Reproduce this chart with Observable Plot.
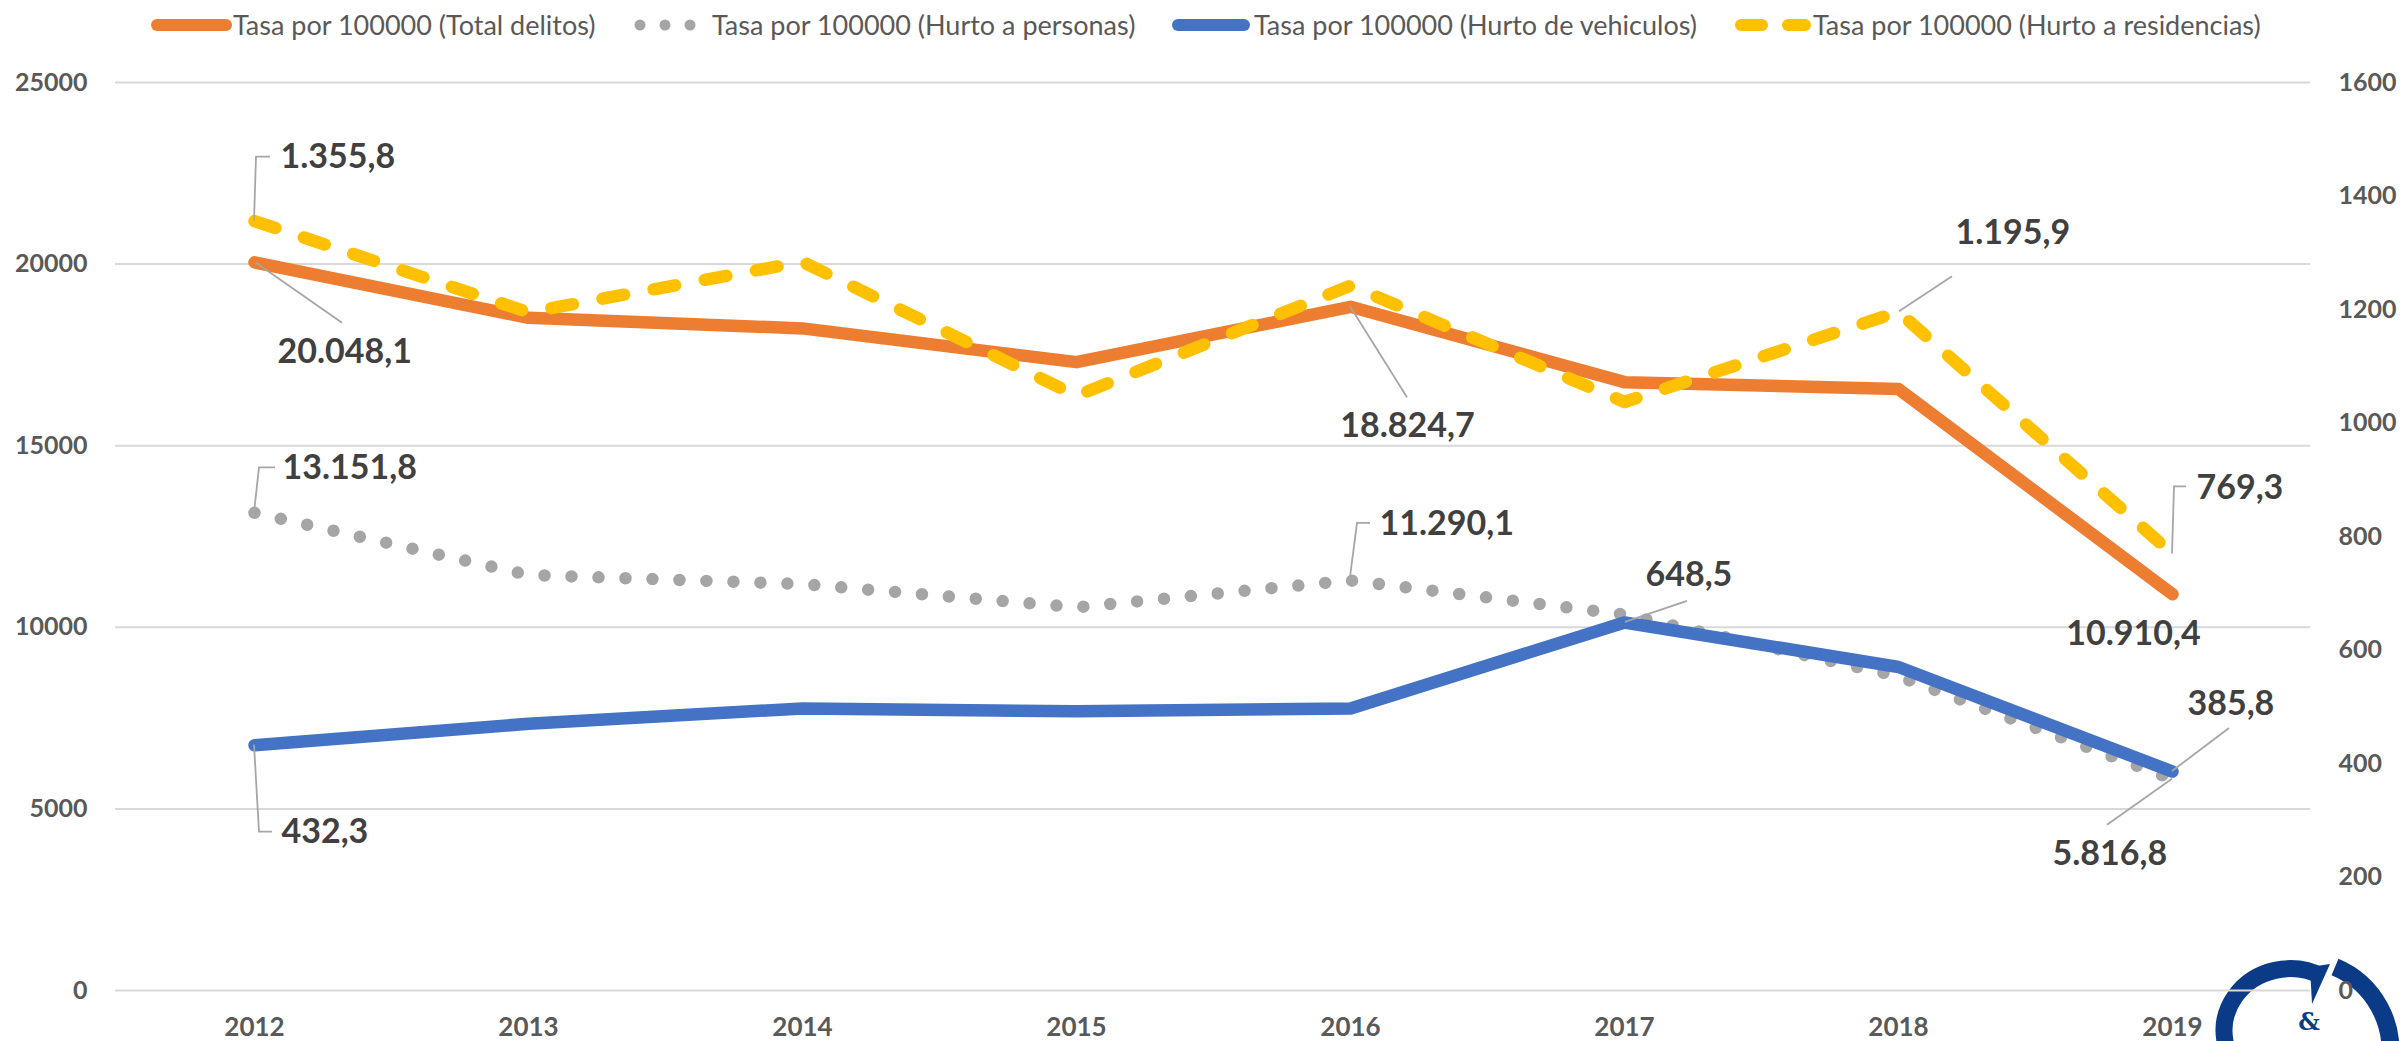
<!DOCTYPE html>
<html>
<head>
<meta charset="utf-8">
<script src="https://cdn.jsdelivr.net/npm/d3@7"></script>
<script src="https://cdn.jsdelivr.net/npm/@observablehq/plot@0.6"></script>
<style>
  html, body { margin: 0; padding: 0; background: #ffffff; }
  body { width: 2402px; height: 1041px; overflow: hidden; position: relative; font-family: Lato, "Open Sans", sans-serif; }
  #legend { position: absolute; left: 0; top: 0; width: 2402px; height: 50px; z-index: 2; }
  #legend .txt { position: absolute; top: 0; line-height: 50px; font-size: 27px; color: #595959; white-space: nowrap; }
  #legend svg.sw { position: absolute; left: 0; top: 0; }
  #logo { position: absolute; left: 0; top: 0; z-index: 0; }
  #chart { position: absolute; left: 0; top: 50px; z-index: 1; }
</style>
</head>
<body>
<div id="legend"></div>
<svg id="logo" width="2402" height="1041" viewBox="0 0 2402 1041">
  <path d="M2250,1080 A66 62 0 0 1 2323,977" fill="none" stroke="#0B3A86" stroke-width="17"/>
  <polygon points="2310,967 2330,964 2312,1004" fill="#0B3A86"/>
  <path d="M2335,967 A90 90 0 0 1 2389,1066" fill="none" stroke="#0B3A86" stroke-width="18"/>
  <text x="2309" y="1030" text-anchor="middle" font-family="DejaVu Serif, serif" font-weight="bold" font-size="24" fill="#0B3A86">&amp;</text>
</svg>
<div id="chart"></div>
<script>
// ---------------- data ----------------
const years = [2012, 2013, 2014, 2015, 2016, 2017, 2018, 2019];
const totalDelitos     = [20048.1, 18520, 18230, 17300, 18824.7, 16750, 16560, 10910.4];
const hurtoPersonas    = [13151.8, 11440, 11190, 10550, 11290.1, 10350, 8650, 5816.8];
const hurtoVehiculos   = [432.3, 470, 497, 492, 497, 648.5, 570, 385.8];
const hurtoResidencias = [1355.8, 1195, 1284, 1048, 1242, 1037, 1195.9, 769.3];
const seriesNames = [
  "Tasa por 100000 (Total delitos)",
  "Tasa por 100000 (Hurto a personas)",
  "Tasa por 100000 (Hurto de vehiculos)",
  "Tasa por 100000 (Hurto a residencias)"
];
const leftTicks  = [0, 5000, 10000, 15000, 20000, 25000];
const rightTicks = [0, 200, 400, 600, 800, 1000, 1200, 1400, 1600];

// ---------------- styling / layout ----------------
const colors = { total: "#ED7D31", personas: "#A5A5A5", veh: "#4472C4", res: "#FFC000" };
const leftMax = 25000, rightMax = 1600;
const k = leftMax / rightMax; // secondary axis -> primary axis units

const seriesDefs = [
  { key: "total",    name: seriesNames[0], values: totalDelitos,     axis: "left"  },
  { key: "personas", name: seriesNames[1], values: hurtoPersonas,    axis: "left"  },
  { key: "veh",      name: seriesNames[2], values: hurtoVehiculos,   axis: "right" },
  { key: "res",      name: seriesNames[3], values: hurtoResidencias, axis: "right" }
];
const rowsOf = s => years.map((yr, i) => ({
  year: yr, value: s.values[i], y: s.axis === "right" ? s.values[i] * k : s.values[i]
}));
const rows = Object.fromEntries(seriesDefs.map(s => [s.key, rowsOf(s)]));

const fmt = d3.formatLocale({ decimal: ",", thousands: ".", grouping: [3], currency: ["", ""] }).format(",.1f");

// label placement (pixel offsets from the data point)
const labelLayout = [
  { key: "res",      i: 0, dx: 26,   dy: -64, anchor: "start",  leader: [[0, 0], [2, -64], [16, -64]] },
  { key: "total",    i: 0, dx: 23,   dy: 90,  anchor: "start",  leader: [[2, 1], [88, 61]] },
  { key: "personas", i: 0, dx: 28,   dy: -45, anchor: "start",  leader: [[0, 0], [5, -45], [21, -45]] },
  { key: "veh",      i: 0, dx: 27,   dy: 87,  anchor: "start",  leader: [[0, 0], [5, 87], [18, 87]] },
  { key: "total",    i: 4, dx: 57,   dy: 119, anchor: "middle", leader: [[0, 0], [57, 91]] },
  { key: "personas", i: 4, dx: 29,   dy: -56, anchor: "start",  leader: [[0, -3], [7, -57], [20, -57]] },
  { key: "veh",      i: 5, dx: 21,   dy: -47, anchor: "start",  leader: [[1, 0], [63, -21]] },
  { key: "res",      i: 6, dx: 57,   dy: -79, anchor: "start",  leader: [[1, 0], [54, -35]] },
  { key: "res",      i: 7, dx: 24,   dy: -66, anchor: "start",  leader: [[0, 0], [2, -67], [14, -67]] },
  { key: "total",    i: 7, dx: -39,  dy: 40,  anchor: "middle", leader: null },
  { key: "veh",      i: 7, dx: 15,   dy: -67, anchor: "start",  leader: [[0, 0], [57, -43]] },
  { key: "personas", i: 7, dx: -120, dy: 75,  anchor: "start",  leader: [[0, 0], [-65, 46]] }
];

const lineStyle = { x: "year", y: "y", strokeWidth: 12.5, strokeLinecap: "round", strokeLinejoin: "round" };

const leaderMark = (index, scales) => {
  const g = d3.create("svg:g").attr("fill", "none").attr("stroke", "#A6A6A6").attr("stroke-width", 1.8);
  for (const L of labelLayout) {
    if (!L.leader) continue;
    const r = rows[L.key][L.i];
    const px = scales.x(r.year), py = scales.y(r.y);
    g.append("path").attr("d", "M" + L.leader.map(([a, b]) => `${px + a},${py + b}`).join("L"));
  }
  return g.node();
};

const labelMarks = labelLayout.map(L => {
  const r = rows[L.key][L.i];
  return Plot.text([r], {
    x: "year", y: "y", text: d => fmt(d.value),
    dx: L.dx, dy: L.dy, textAnchor: L.anchor,
    fontSize: 34, fontWeight: "bold", fill: "#404040", fontFamily: "Lato, sans-serif"
  });
});

const chart = Plot.plot({
  width: 2402,
  height: 991,
  marginTop: 32,
  marginBottom: 51,
  marginLeft: 115,
  marginRight: 92,
  style: { background: "transparent", color: "#595959", fontFamily: "Lato, sans-serif", fontSize: "25px", fontWeight: "bold", overflow: "visible" },
  x: { type: "point", domain: years, padding: 0.5 },
  y: { domain: [0, leftMax] },
  marks: [
    Plot.gridY({ ticks: leftTicks, stroke: "#D9D9D9", strokeOpacity: 1, strokeWidth: 2 }),
    Plot.axisY({ ticks: leftTicks, anchor: "left", tickSize: 0, tickPadding: 28, label: null, fontSize: 25, fontWeight: "bold", tickFormat: d => String(d) }),
    Plot.axisY({ ticks: rightTicks.map(v => v * k), anchor: "right", tickSize: 0, tickPadding: 28, label: null, fontSize: 25, fontWeight: "bold", tickFormat: d => String(Math.round(d / k)) }),
    Plot.axisX({ anchor: "bottom", tickSize: 0, tickPadding: 27, label: null, fontSize: 26, fontWeight: "bold", tickFormat: d => String(d) }),
    Plot.line(rows.total,    { ...lineStyle, stroke: colors.total }),
    Plot.line(rows.personas, { ...lineStyle, stroke: colors.personas, strokeWidth: 12.5, strokeDasharray: "0 27" }),
    Plot.line(rows.veh,      { ...lineStyle, stroke: colors.veh }),
    Plot.line(rows.res,      { ...lineStyle, stroke: colors.res, strokeDasharray: "22 30" }),
    leaderMark,
    ...labelMarks
  ]
});
document.getElementById("chart").appendChild(chart);

// ---------------- legend ----------------
const legendItems = [
  { key: "total",    swatch: "line",   x0: 157,  x1: 226,  textX: 233 },
  { key: "personas", swatch: "dots",   x0: 640,  x1: 690,  textX: 712 },
  { key: "veh",      swatch: "line",   x0: 1178, x1: 1244, textX: 1254 },
  { key: "res",      swatch: "dashes", x0: 1741, x1: 1805, textX: 1813 }
];
const legend = d3.select("#legend");
const sw = legend.append("svg").attr("class", "sw").attr("width", 2402).attr("height", 50);
legendItems.forEach((it, idx) => {
  const c = colors[it.key];
  if (it.swatch === "line") {
    sw.append("line").attr("x1", it.x0).attr("x2", it.x1).attr("y1", 25).attr("y2", 25)
      .attr("stroke", c).attr("stroke-width", 12).attr("stroke-linecap", "round");
  } else if (it.swatch === "dots") {
    [0, 0.5, 1].forEach(f => sw.append("circle").attr("cx", it.x0 + f * (it.x1 - it.x0)).attr("cy", 25).attr("r", 5.5).attr("fill", c));
  } else {
    [[it.x0, it.x0 + 21], [it.x0 + 47, it.x1]].forEach(([a, b]) =>
      sw.append("line").attr("x1", a).attr("x2", b).attr("y1", 25).attr("y2", 25)
        .attr("stroke", c).attr("stroke-width", 12).attr("stroke-linecap", "round"));
  }
  legend.append("span").attr("class", "txt").style("left", it.textX + "px").text(seriesDefs.find(s => s.key === it.key).name);
});
</script>
</body>
</html>
